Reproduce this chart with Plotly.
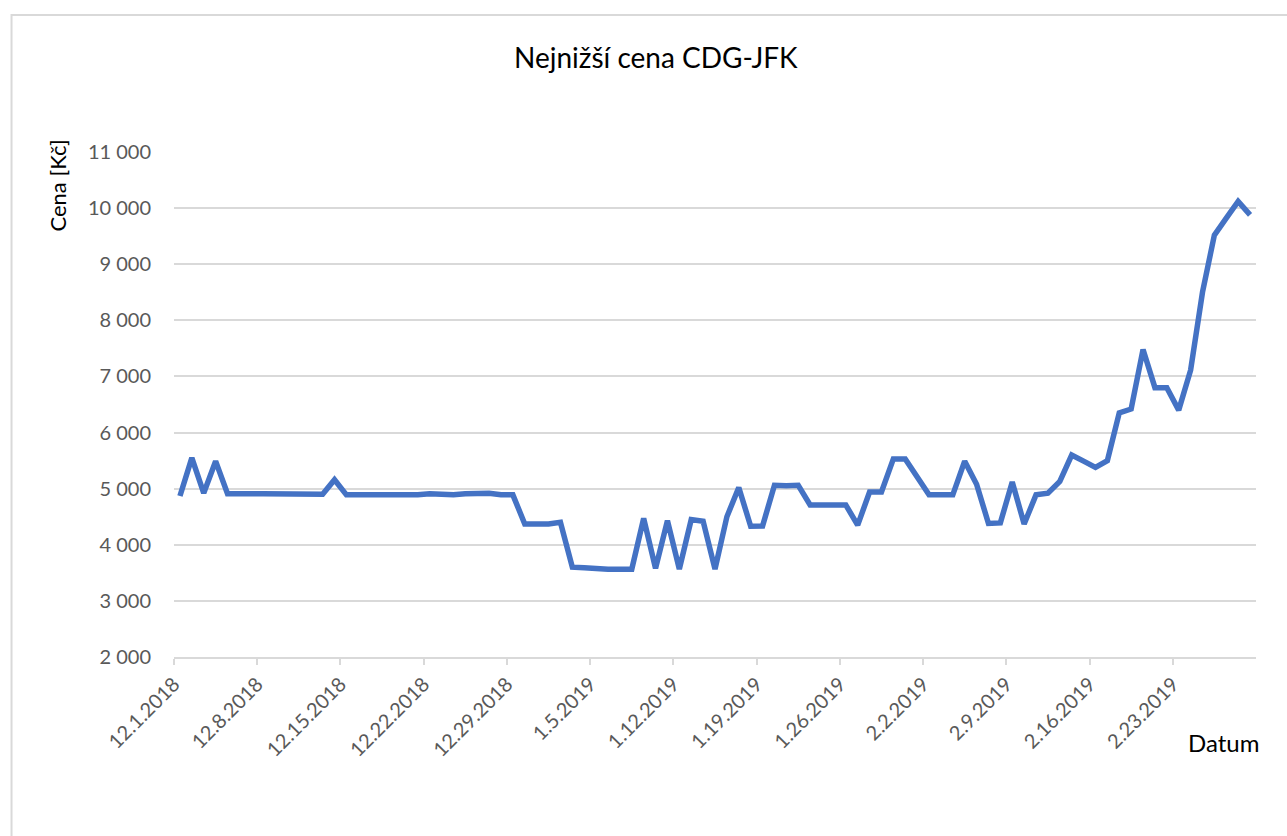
import pandas as pd
import plotly.graph_objects as go

# ---- data ----
start_date = "2018-12-01"
prices = [
    4870, 5550, 4920, 5490, 4910, 4920, 4910, 4910, 4910, 4900,
    4900, 4910, 4900, 5160, 4890, 4890, 4890, 4890, 4880, 4890,
    4890, 4910, 4900, 4890, 4910, 4910, 4920, 4890, 4890, 4370,
    4360, 4370, 4400, 3600, 3590, 3570, 3565, 3565, 3565, 4470,
    3580, 4430, 3565, 4450, 4420, 3565, 4500, 5020, 4330, 4335,
    5060, 5050, 5060, 4710, 4710, 4710, 4710, 4350, 4940, 4940,
    5530, 5530, 5200, 4890, 4890, 4890, 5490, 5080, 4380, 4390,
    5120, 4370, 4890, 4920, 5130, 5600, 5490, 5380, 5500, 6350,
    6420, 7480, 6800, 6800, 6400, 7110, 8500, 9520, 9820, 10120,
    9880,
]
tick_labels = [
    "12.1.2018", "12.8.2018", "12.15.2018", "12.22.2018", "12.29.2018",
    "1.5.2019", "1.12.2019", "1.19.2019", "1.26.2019", "2.2.2019",
    "2.9.2019", "2.16.2019", "2.23.2019",
]
y_ticks = [2000, 3000, 4000, 5000, 6000, 7000, 8000, 9000, 10000, 11000]
title_text = "Nejnižší cena CDG-JFK"
y_title = "Cena [Kč]"
x_title = "Datum"

# ---- build ----
days = pd.date_range(start_date, periods=len(prices), freq="D")
x_mid = days + pd.Timedelta(hours=12)          # points sit between tick marks
tick_dates = pd.date_range(start_date, periods=len(tick_labels), freq="7D")
x_end = days[-1] + pd.Timedelta(days=1)

W, H = 1287, 836
L, R, T, B = 173.5, 31.3, 152, 179
pw, ph = W - L - R, H - T - B

def px(x):
    return (x - L) / pw

def py(y):
    return (H - B - y) / ph

FONT = "Lato"
GREY = "#595959"
GRID = "#d9d9d9"

fig = go.Figure()
fig.add_trace(go.Scatter(
    x=x_mid, y=prices, mode="lines",
    line=dict(color="#4472C4", width=5.5, shape="linear"),
    hoverinfo="x+y", showlegend=False,
))

fig.update_layout(
    width=W, height=H,
    margin=dict(l=L, r=R, t=T, b=B, pad=0),
    paper_bgcolor="white", plot_bgcolor="white",
    separators=", ",
    font=dict(family=FONT, color=GREY, size=20),
    xaxis=dict(
        type="date",
        range=[days[0], x_end],
        tickmode="array",
        tickvals=tick_dates,
        ticktext=tick_labels,
        tickangle=-45,
        ticks="outside", ticklen=6, tickcolor=GRID, tickwidth=1.5,
        showline=True, linecolor=GRID, linewidth=1.5,
        showgrid=False, zeroline=False,
        tickfont=dict(family=FONT, color=GREY, size=20),
    ),
    yaxis=dict(
        range=[2000, 11000],
        tickmode="array",
        tickvals=y_ticks,
        tickformat=",d",
        showgrid=True, gridcolor=GRID, gridwidth=1.5,
        zeroline=False, showline=False, ticks="",
        ticklabelstandoff=22,
        tickfont=dict(family=FONT, color=GREY, size=20),
    ),
    shapes=[dict(
        type="rect", xref="paper", yref="paper",
        x0=px(11), x1=px(1400), y0=py(900), y1=py(15),
        line=dict(color=GRID, width=2), fillcolor="rgba(0,0,0,0)",
        layer="below",
    )],
    annotations=[
        dict(text=title_text, xref="paper", yref="paper",
             x=px(656), y=py(57), showarrow=False,
             xanchor="center", yanchor="middle",
             font=dict(family=FONT, color="#000000", size=28)),
        dict(text=y_title, xref="paper", yref="paper",
             x=px(57), y=py(186), showarrow=False, textangle=-90,
             xanchor="center", yanchor="middle",
             font=dict(family=FONT, color="#000000", size=22)),
        dict(text=x_title, xref="paper", yref="paper",
             x=px(1223), y=py(742), showarrow=False,
             xanchor="center", yanchor="middle",
             font=dict(family=FONT, color="#000000", size=24)),
    ],
)

fig.write_html(
    "out.html",
    config={"displayModeBar": False},
    post_script="document.body.style.margin='0';document.body.style.overflow='hidden';",
)
